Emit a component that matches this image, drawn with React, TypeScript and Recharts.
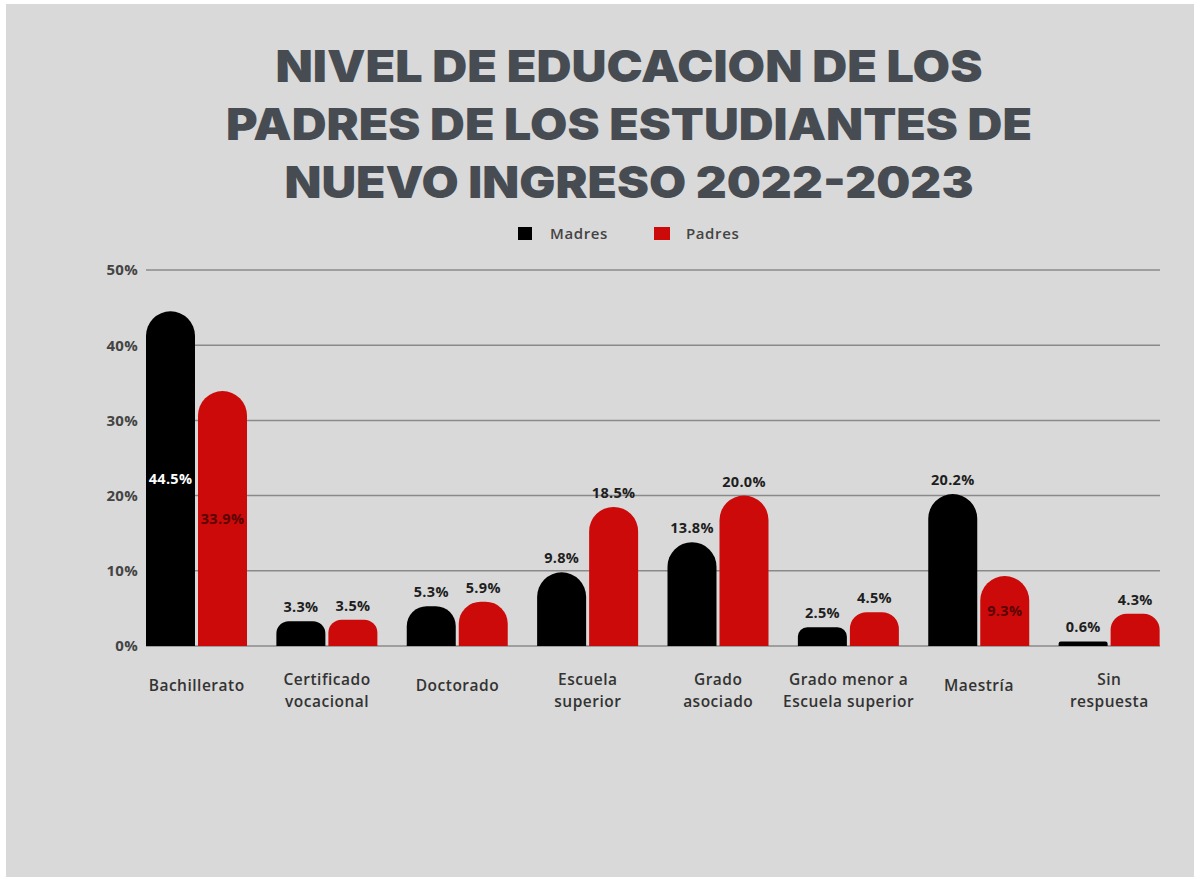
import React from "react";
import { BarChart, Bar, XAxis, YAxis, CartesianGrid, LabelList, Legend } from "recharts";

const categories = [
  "Bachillerato",
  "Certificado vocacional",
  "Doctorado",
  "Escuela superior",
  "Grado asociado",
  "Grado menor a Escuela superior",
  "Maestría",
  "Sin respuesta",
];
const tickLines: string[][] = [
  ["Bachillerato"],
  ["Certificado", "vocacional"],
  ["Doctorado"],
  ["Escuela", "superior"],
  ["Grado", "asociado"],
  ["Grado menor a", "Escuela superior"],
  ["Maestría"],
  ["Sin", "respuesta"],
];
const madres = [44.5, 3.3, 5.3, 9.8, 13.8, 2.5, 20.2, 0.6];
const padres = [33.9, 3.5, 5.9, 18.5, 20.0, 4.5, 9.3, 4.3];
const yTicks = [0, 10, 20, 30, 40, 50];
const titleLines = [
  "NIVEL DE EDUCACION DE LOS",
  "PADRES DE LOS ESTUDIANTES DE",
  "NUEVO INGRESO 2022-2023",
];
const titleWidths = [707, 806, 689];
const insideMadres = ["Bachillerato"];
const insidePadres = ["Bachillerato", "Maestría"];

const data = categories.map((c, i) => ({ name: c, Madres: madres[i], Padres: padres[i] }));

const FONT = "'Open Sans', sans-serif";

const CategoryTick = (props: any) => {
  const { x, index } = props;
  const lines = tickLines[index] || [];
  const startY = lines.length === 1 ? 691 : 685;
  return (
    <g>
      {lines.map((l, k) => (
        <text
          key={k}
          x={x}
          y={startY + k * 22}
          textAnchor="middle"
          fontFamily={FONT}
          fontSize={15.5}
          fontWeight={600}
          letterSpacing={0.5}
          fill="#333"
        >
          {l}
        </text>
      ))}
    </g>
  );
};

const makeLabel = (inside: string[], insideColor: string) => (props: any) => {
  const { x, y, width, height, value, index } = props;
  const isInside = inside.includes(categories[index]);
  const cx = x + width / 2;
  const ty = isInside ? y + height / 2 + 5 : y - 9;
  return (
    <text
      x={cx}
      y={ty}
      textAnchor="middle"
      fontFamily={FONT}
      fontSize={14.5}
      fontWeight={700}
      letterSpacing={0.3}
      fill={isInside ? insideColor : "#1e1e1e"}
    >
      {Number(value).toFixed(1)}%
    </text>
  );
};

const LegendContent = () => (
  <div style={{ position: "relative", height: 16, fontFamily: FONT, fontSize: 15, fontWeight: 600, color: "#444", letterSpacing: 0.6, lineHeight: "16px" }}>
    <span style={{ position: "absolute", left: 0, top: 2, width: 14, height: 13, background: "#000" }} />
    <span style={{ position: "absolute", left: 32, top: 0 }}>Madres</span>
    <span style={{ position: "absolute", left: 136, top: 2, width: 16, height: 13, background: "#cc0a0a" }} />
    <span style={{ position: "absolute", left: 168, top: 0 }}>Padres</span>
  </div>
);

export default function App() {
  return (
    <div style={{ position: "absolute", left: 0, top: 0, width: 1194, height: 877, background: "#fff", overflow: "hidden" }}>
      <div style={{ position: "absolute", left: 6, top: 4, width: 1188, height: 873, background: "#d9d9d9" }} />
      <svg style={{ position: "absolute", left: 0, top: 0 }} width={1194} height={210}>
        {titleLines.map((t, i) => (
          <text
            key={i}
            x={629}
            y={82 + i * 58}
            textAnchor="middle"
            fontFamily="Inter, sans-serif"
            fontWeight={900}
            fontSize={44}
            textLength={titleWidths[i]}
            lengthAdjust="spacingAndGlyphs"
            fill="#474c53"
          >
            {t}
          </text>
        ))}
      </svg>
      <div style={{ position: "absolute", left: 0, top: 0 }}>
        <BarChart
          width={1194}
          height={877}
          data={data}
          margin={{ top: 270, right: 34, bottom: 171, left: 86 }}
          barCategoryGap={14.5}
          barGap={3}
        >
          <CartesianGrid vertical={false} stroke="#8a8a8a" strokeWidth={1.5} />
          <XAxis
            dataKey="name"
            axisLine={false}
            tickLine={false}
            padding={{ left: -14.5, right: -14.5 }}
            height={60}
            interval={0}
            tick={<CategoryTick />}
          />
          <YAxis
            width={60}
            domain={[0, 50]}
            ticks={yTicks}
            axisLine={false}
            tickLine={false}
            tickFormatter={(v: number) => `${v}%`}
            tick={{ fontFamily: FONT, fontSize: 15, fontWeight: 700, fill: "#444", letterSpacing: 0.3 }}
          />
          <Legend
            verticalAlign="top"
            content={<LegendContent />}
            wrapperStyle={{ position: "absolute", left: 518, top: 225, width: 300, height: 0, overflow: "visible" }}
          />
          <Bar dataKey="Madres" fill="#000000" radius={[25, 25, 0, 0]} isAnimationActive={false}>
            <LabelList dataKey="Madres" content={makeLabel(insideMadres, "#ffffff")} />
          </Bar>
          <Bar dataKey="Padres" fill="#cc0a0a" radius={[25, 25, 0, 0]} isAnimationActive={false}>
            <LabelList dataKey="Padres" content={makeLabel(insidePadres, "#5a0404")} />
          </Bar>
        </BarChart>
      </div>
    </div>
  );
}
